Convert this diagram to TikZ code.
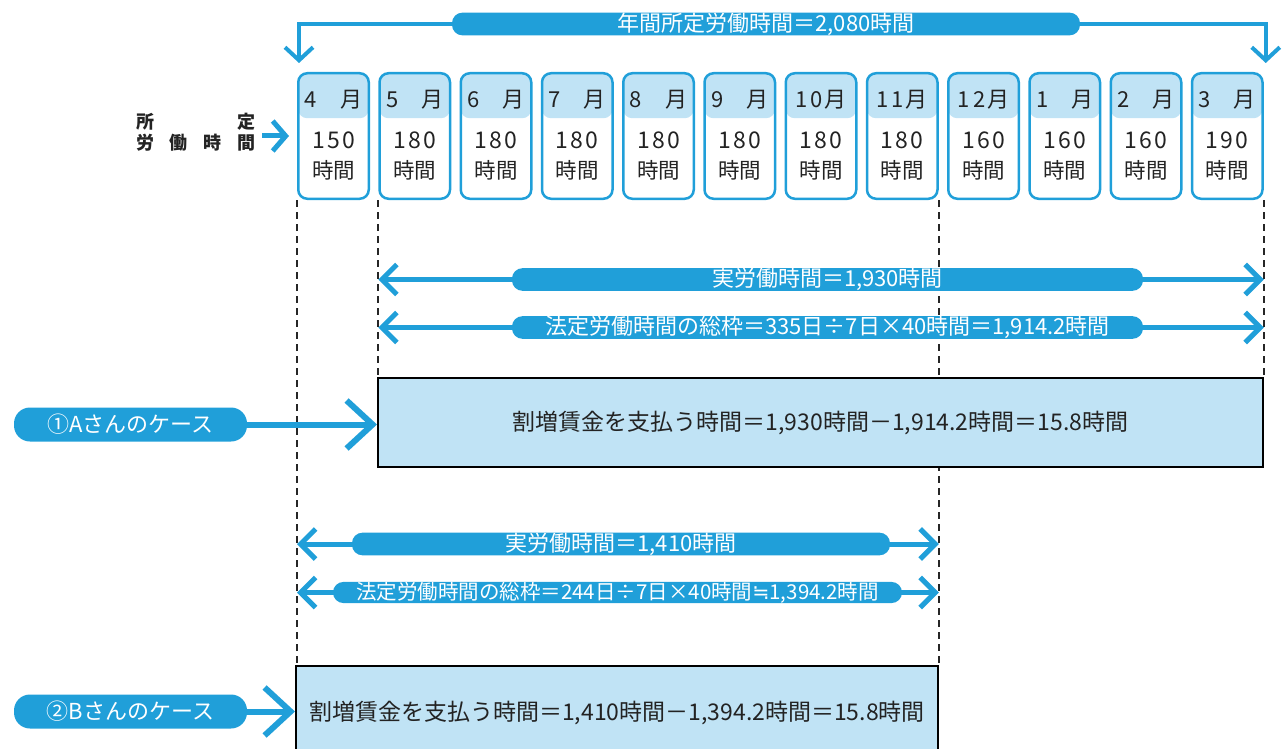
\documentclass[tikz,border=0pt]{standalone}
\usepackage{fontspec}
\setmainfont{Noto Sans CJK JP}
\newfontfamily\symfont{DejaVu Sans}
\newfontfamily\widefont[LetterSpace=10]{Noto Sans CJK JP}
\usetikzlibrary{arrows.meta,backgrounds}
\definecolor{sky}{RGB}{32,159,217}
\definecolor{pale}{RGB}{192,227,245}
\definecolor{ink}{RGB}{35,35,35}

\begin{document}
\begin{tikzpicture}[x=1pt,y=-1pt,
  mtext/.style={anchor=center, inner sep=0pt, text=ink},
  month/.style 2 args={draw=sky, line width=2.5pt, rounded corners=9pt,
    minimum width=70.5pt, minimum height=125.5pt, inner sep=0pt,
    path picture={\fill[pale] (path picture bounding box.north west)
      rectangle ([yshift=-45pt]path picture bounding box.north east);},
    label={[mtext, yshift=-28pt, font=\fontsize{22}{22}\selectfont]north:#1},
    label={[mtext, yshift=-4pt, font=\widefont\fontsize{23}{23}\selectfont]center:#2},
    label={[mtext, yshift=30pt, font=\fontsize{21.5}{21.5}\selectfont]south:時間}},
  pill/.style={fill=sky, text=white, rounded corners=10.5pt, minimum height=22pt,
    inner sep=0pt, font=\fontsize{22}{22}\selectfont},
  case/.style={fill=sky, text=white, rounded corners=16pt, minimum width=233pt,
    minimum height=34pt, inner sep=0pt, font=\fontsize{22}{22}\selectfont},
  result/.style={draw=black, line width=2pt, fill=pale, inner sep=0pt, text=ink,
    font=\fontsize{23}{23}\selectfont},
  guide/.style={draw=black!85, line width=1.6pt, dash pattern=on 7pt off 5pt},
  span/.style={draw=sky, line width=5pt,
    {Straight Barb[length=15pt,width=30pt]}-{Straight Barb[length=15pt,width=30pt]}}]
\useasboundingbox (0,0) rectangle (1285,749);

% months
\node[month={4\hspace{23pt}月}{150}] (4) at (333.5,136) {};
\node[month={5\hspace{23pt}月}{180}] (5) at (414.75,136) {};
\node[month={6\hspace{23pt}月}{180}] (6) at (496,136) {};
\node[month={7\hspace{23pt}月}{180}] (7) at (577.25,136) {};
\node[month={8\hspace{23pt}月}{180}] (8) at (658.5,136) {};
\node[month={9\hspace{23pt}月}{180}] (9) at (739.75,136) {};
\node[month={1\hspace{3pt}0\hspace{2pt}月}{180}] (10) at (821,136) {};
\node[month={1\hspace{3pt}1\hspace{2pt}月}{180}] (11) at (902.25,136) {};
\node[month={1\hspace{3pt}2\hspace{2pt}月}{160}] (12) at (983.5,136) {};
\node[month={1\hspace{23pt}月}{160}] (1) at (1064.75,136) {};
\node[month={2\hspace{23pt}月}{160}] (2) at (1146,136) {};
\node[month={3\hspace{23pt}月}{190}] (3) at (1227.25,136) {};
\node[text=ink, align=left, inner sep=2pt, font=\fontsize{18}{21}\selectfont\bfseries]
  (given) at (195.5,132.5) {\makebox[119pt][s]{所\hfill 定}\\\makebox[119pt][s]{労\hfill 働\hfill 時\hfill 間}};

% totals
\node[pill, minimum width=628pt] (total) at (766,24) {年間所定労働時間＝2,080時間};
\node[pill, minimum width=631pt] (pA1) at (827.5,279.5) {実労働時間＝1,930時間};
\node[pill, minimum width=631pt, minimum height=21pt] (pA2) at (827.5,327.5) {法定労働時間の総枠＝335日÷7日×40時間＝1,914.2時間};
\node[pill, minimum width=538pt] (pB1) at (621,544) {実労働時間＝1,410時間};
\node[pill, minimum width=569pt, minimum height=21pt, font=\fontsize{20.5}{20.5}\selectfont] (pB2) at (617.5,592.5) {法定労働時間の総枠＝244日÷7日×40時間{\symfont ≒}1,394.2時間};

% cases
\node[case] (A) at (130.5,424.5) {①Aさんのケース};
\node[case] (B) at (130.5,711.5) {②Bさんのケース};
\node[result, minimum width=885pt, minimum height=89pt] (boxA) at (820.5,422.5) {割増賃金を支払う時間＝1,930時間－1,914.2時間＝15.8時間};
\node[result, minimum width=642pt, minimum height=94pt] (boxB) at (617,713) {割増賃金を支払う時間＝1,410時間－1,394.2時間＝15.8時間};

\begin{scope}[on background layer]
\draw[guide] (4.south west) -- (4.south west |- boxB.north);
\draw[guide] (5.south west) -- (5.south west |- boxA.north);
\draw[guide] (11.south east) -- (11.south east |- boxB.north);
\draw[guide] (3.south east) -- (3.south east |- boxA.north);
\draw[sky, line width=4pt, {Straight Barb[length=13pt,width=28pt]}-{Straight Barb[length=13pt,width=28pt]}]
  ([xshift=2pt,yshift=9pt]4.north west) |- (total.center) -| ([xshift=2pt,yshift=9pt]3.north east);
\draw[sky, line width=5pt, -{Straight Barb[length=13pt,width=30pt]}] ([xshift=5pt]given.east |- 4.west) -- ([xshift=-8pt]4.west);
\draw[span] (5.south west |- pA1) -- (3.south east |- pA1);
\draw[span] (5.south west |- pA2) -- (3.south east |- pA2);
\draw[span] (4.south west |- pB1) -- (11.south east |- pB1);
\draw[span] (4.south west |- pB2) -- (11.south east |- pB2);
\draw[sky, line width=6pt, -{Straight Barb[length=26pt,width=48pt]}] (A) -- (A -| boxA.west);
\draw[sky, line width=6pt, -{Straight Barb[length=26pt,width=48pt]}] (B) -- (B -| boxB.west);
\end{scope}
\end{tikzpicture}
\end{document}
